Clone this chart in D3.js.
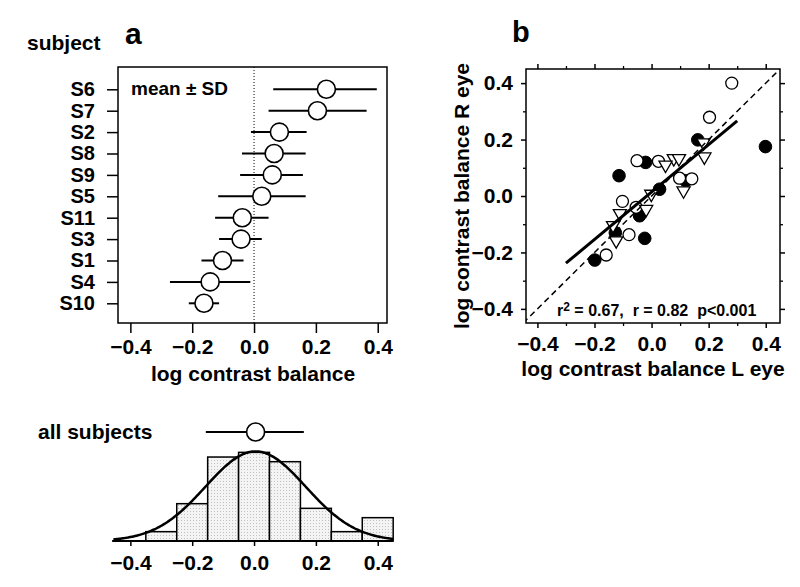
<!DOCTYPE html>
<html>
<head>
<meta charset="utf-8">
<script src="https://cdn.jsdelivr.net/npm/d3@7"></script>
<style>
  body { margin: 0; background: #fff; }
  svg { display: block; }
  text { font-family: "Liberation Sans", Arial, sans-serif; font-weight: bold; fill: #000; }
</style>
</head>
<body>
<script>
// panel a: per-subject mean +- SD
const subjects = ["S6", "S7", "S2", "S8", "S9", "S5", "S11", "S3", "S1", "S4", "S10"];
const subjMean = [0.234, 0.205, 0.082, 0.065, 0.059, 0.025, -0.038, -0.042, -0.102, -0.142, -0.162];
const subjLo = [0.062, 0.047, -0.010, -0.039, -0.045, -0.116, -0.126, -0.113, -0.170, -0.272, -0.211];
const subjHi = [0.397, 0.364, 0.170, 0.167, 0.158, 0.167, 0.047, 0.025, -0.034, -0.012, -0.113];
const xTicks = [-0.4, -0.2, 0.0, 0.2, 0.4];

// histogram, all subjects
const binStarts = [-0.35, -0.25, -0.15, -0.05, 0.05, 0.15, 0.25, 0.35];
const binCounts = [2, 8, 18, 19, 17, 7, 2, 5];
const binWidth = 0.1;
const allMean = 0.005, allSD = 0.162;
const allLo = -0.156, allHi = 0.161;

// panel b: L eye vs R eye
const filledL = [-0.199, -0.114, -0.021, -0.024, 0.028, 0.162, 0.399, -0.042, -0.127, 0.120];
const filledR = [-0.227, 0.072, 0.119, -0.150, 0.024, 0.199, 0.175, -0.070, -0.130, 0.054];
const openL = [0.281, 0.203, -0.051, 0.024, 0.098, 0.141, -0.102, -0.054, -0.079, -0.159];
const openR = [0.400, 0.279, 0.125, 0.123, 0.063, 0.061, -0.019, -0.040, -0.137, -0.209];
const triL = [0.182, 0.185, 0.078, 0.096, 0.049, 0.112, -0.001, -0.019, -0.111, -0.135, -0.124];
const triR = [0.189, 0.139, 0.133, 0.133, 0.110, 0.019, 0.007, -0.047, -0.062, -0.104, -0.158];
const fitX = [-0.30, 0.30];
const fitY = [-0.238, 0.266];
const bTicks = [-0.4, -0.2, 0.0, 0.2, 0.4];
const bMinor = [-0.3, -0.1, 0.1, 0.3];

const svg = d3.select("body").append("svg")
    .attr("width", 800)
    .attr("height", 587);

const fmt = d3.format(".1f");

// ---------- panel a ----------
const xA = d3.scaleLinear().domain([-0.44, 0.43]).range([118, 387]);
const yA = d3.scalePoint().domain(subjects).range([89.3, 303.3]);
const boxA = {top: 67, bottom: 323};

svg.append("rect")
    .attr("x", xA.range()[0]).attr("y", boxA.top)
    .attr("width", xA.range()[1] - xA.range()[0])
    .attr("height", boxA.bottom - boxA.top)
    .attr("fill", "none").attr("stroke", "#000").attr("stroke-width", 1.5);

const ayA = svg.append("g")
    .attr("transform", "translate(" + xA.range()[0] + ",0)")
    .call(d3.axisLeft(yA).tickSize(11).tickPadding(12));
ayA.select(".domain").remove();
ayA.selectAll("line").attr("stroke-width", 1.5);
ayA.selectAll("text").attr("font-size", 20).attr("font-family", null);

const axA = svg.append("g")
    .attr("transform", "translate(0," + boxA.bottom + ")")
    .call(d3.axisBottom(xA).tickValues(xTicks).tickFormat(fmt).tickSize(10).tickPadding(6).tickSizeOuter(0));
axA.select(".domain").remove();
axA.selectAll("line").attr("stroke-width", 1.5);
axA.selectAll("text").attr("font-size", 21).attr("font-family", null);

svg.append("line")
    .attr("x1", xA(0)).attr("x2", xA(0))
    .attr("y1", boxA.top).attr("y2", boxA.bottom)
    .attr("stroke", "#000").attr("stroke-width", 1)
    .attr("stroke-dasharray", "1,2");

const rows = subjects.map((s, i) => ({s: s, m: subjMean[i], lo: subjLo[i], hi: subjHi[i]}));

svg.selectAll(".sdbar")
    .data(rows)
    .enter().append("line")
    .attr("class", "sdbar")
    .attr("x1", d => xA(d.lo)).attr("x2", d => xA(d.hi))
    .attr("y1", d => yA(d.s)).attr("y2", d => yA(d.s))
    .attr("stroke", "#000").attr("stroke-width", 2);

svg.selectAll(".mean")
    .data(rows)
    .enter().append("circle")
    .attr("class", "mean")
    .attr("cx", d => xA(d.m)).attr("cy", d => yA(d.s))
    .attr("r", 9)
    .attr("fill", "#fff").attr("stroke", "#000").attr("stroke-width", 1.6);

svg.append("text").text("mean ± SD")
    .attr("x", 131).attr("y", 95).attr("font-size", 19);
svg.append("text").text("subject")
    .attr("x", 27).attr("y", 50).attr("font-size", 21);
svg.append("text").text("a")
    .attr("x", 125).attr("y", 44).attr("font-size", 30);
svg.append("text").text("log contrast balance")
    .attr("x", 253).attr("y", 381).attr("text-anchor", "middle").attr("font-size", 21);

// ---------- histogram ----------
const xH = d3.scaleLinear().domain([-0.44, 0.43]).range([118, 387]);
const yH = d3.scaleLinear().domain([0, 20]).range([541, 541 - 93.3]);

const defs = svg.append("defs");
const pat = defs.append("pattern")
    .attr("id", "stip").attr("patternUnits", "userSpaceOnUse")
    .attr("width", 3).attr("height", 3);
pat.append("rect").attr("width", 3).attr("height", 3).attr("fill", "#f4f4f4");
pat.append("rect").attr("x", 1).attr("y", 1).attr("width", 1).attr("height", 1).attr("fill", "#c0c0c0");

const bins = binStarts.map((b, i) => ({x0: b, x1: b + binWidth, n: binCounts[i]}));

svg.selectAll(".bin")
    .data(bins)
    .enter().append("rect")
    .attr("class", "bin")
    .attr("x", d => xH(d.x0))
    .attr("width", d => xH(d.x1) - xH(d.x0))
    .attr("y", d => yH(d.n))
    .attr("height", d => yH(0) - yH(d.n))
    .attr("fill", "url(#stip)").attr("stroke", "#000").attr("stroke-width", 1.5);

// fitted normal, scaled to counts
const nTot = d3.sum(binCounts);
const curveX = d3.range(-0.455, 0.4525, 0.005);
const curve = curveX.map(v => [v, nTot * binWidth / (allSD * Math.sqrt(2 * Math.PI)) *
    Math.exp(-0.5 * Math.pow((v - allMean) / allSD, 2))]);
svg.append("path")
    .datum(curve)
    .attr("d", d3.line().x(d => xH(d[0])).y(d => yH(d[1])).curve(d3.curveBasis))
    .attr("fill", "none").attr("stroke", "#000").attr("stroke-width", 2.5);

const axH = svg.append("g")
    .attr("transform", "translate(0," + yH(0) + ")")
    .call(d3.axisBottom(xH).tickValues(xTicks).tickFormat(fmt).tickSize(5).tickPadding(9).tickSizeOuter(0));
axH.select(".domain")
    .attr("d", "M" + xH(-0.459) + ",0H" + xH(0.45))
    .attr("stroke-width", 2);
axH.selectAll("line").attr("stroke-width", 1.5);
axH.selectAll("text").attr("font-size", 21).attr("font-family", null);

const allY = 432;
svg.append("line")
    .attr("x1", xH(allLo)).attr("x2", xH(allHi))
    .attr("y1", allY).attr("y2", allY)
    .attr("stroke", "#000").attr("stroke-width", 2);
svg.append("circle")
    .attr("cx", xH(allMean)).attr("cy", allY).attr("r", 9)
    .attr("fill", "#fff").attr("stroke", "#000").attr("stroke-width", 1.6);
svg.append("text").text("all subjects")
    .attr("x", 38).attr("y", 439).attr("font-size", 21);

// ---------- panel b ----------
const xB = d3.scaleLinear().domain([-0.44, 0.45]).range([526, 780]);
const yB = d3.scaleLinear().domain([-0.45, 0.45]).range([323, 69]);

defs.append("clipPath").attr("id", "clipB")
    .append("rect")
    .attr("x", 526).attr("y", 69).attr("width", 254).attr("height", 254);

function frameAxis(axisFn, scale, tr, labels) {
    const g = svg.append("g").attr("transform", tr);
    g.call(axisFn(scale).tickValues(bMinor).tickFormat("").tickSize(3).tickSizeOuter(0));
    g.select(".domain").remove();
    const g2 = svg.append("g").attr("transform", tr);
    g2.call(axisFn(scale).tickValues(bTicks).tickFormat(labels ? fmt : "").tickSize(5).tickPadding(8).tickSizeOuter(0));
    g2.select(".domain").remove();
    g.selectAll("line").attr("stroke-width", 1.3);
    g2.selectAll("line").attr("stroke-width", 1.5);
    return g2;
}

const bxAx = frameAxis(d3.axisBottom, xB, "translate(0,323)", true);
bxAx.selectAll("text").attr("font-size", 21).attr("font-family", null);
frameAxis(d3.axisTop, xB, "translate(0,69)", false);
const byAx = frameAxis(d3.axisLeft, yB, "translate(526,0)", true);
byAx.selectAll("text").attr("font-size", 21).attr("font-family", null);
frameAxis(d3.axisRight, yB, "translate(780,0)", false);

svg.append("rect")
    .attr("x", 526).attr("y", 69).attr("width", 254).attr("height", 254)
    .attr("fill", "none").attr("stroke", "#000").attr("stroke-width", 1.5);

const plotB = svg.append("g").attr("clip-path", "url(#clipB)");

const filledPts = filledL.map((v, i) => [v, filledR[i]]);
const openPts = openL.map((v, i) => [v, openR[i]]);
const triPts = triL.map((v, i) => [v, triR[i]]);

plotB.selectAll(".filled")
    .data(filledPts)
    .enter().append("circle")
    .attr("class", "filled")
    .attr("cx", d => xB(d[0])).attr("cy", d => yB(d[1]))
    .attr("r", 6.3).attr("fill", "#000").attr("stroke", "#000");

plotB.selectAll(".open")
    .data(openPts)
    .enter().append("circle")
    .attr("class", "open")
    .attr("cx", d => xB(d[0])).attr("cy", d => yB(d[1]))
    .attr("r", 6).attr("fill", "#fff").attr("stroke", "#000").attr("stroke-width", 1.3);

const tri = d3.symbol().type(d3.symbolTriangle).size(75);
plotB.selectAll(".tri")
    .data(triPts)
    .enter().append("path")
    .attr("class", "tri")
    .attr("d", tri)
    .attr("transform", d => "translate(" + xB(d[0]) + "," + yB(d[1]) + ") rotate(180)")
    .attr("fill", "#fff").attr("stroke", "#000").attr("stroke-width", 1.3);

// identity line
plotB.append("line")
    .attr("x1", xB(-0.45)).attr("y1", yB(-0.45))
    .attr("x2", xB(0.45)).attr("y2", yB(0.45))
    .attr("stroke", "#000").attr("stroke-width", 1.5)
    .attr("stroke-dasharray", "6,4");

// regression line
plotB.append("line")
    .attr("x1", xB(fitX[0])).attr("y1", yB(fitY[0]))
    .attr("x2", xB(fitX[1])).attr("y2", yB(fitY[1]))
    .attr("stroke", "#000").attr("stroke-width", 3);

const note = svg.append("text").attr("x", 557).attr("y", 316).attr("font-size", 16);
note.append("tspan").text("r");
note.append("tspan").text("2").attr("dy", -5).attr("font-size", 12);
note.append("tspan").text(" = 0.67,\u00a0\u00a0r = 0.82\u00a0\u00a0p<0.001").attr("dy", 5);

svg.append("text").text("b")
    .attr("x", 512).attr("y", 42).attr("font-size", 29);
svg.append("text").text("log contrast balance L eye")
    .attr("x", 653).attr("y", 376).attr("text-anchor", "middle").attr("font-size", 21);
svg.append("text").text("log contrast balance R eye")
    .attr("transform", "translate(469,196) rotate(-90)")
    .attr("text-anchor", "middle").attr("font-size", 21);
</script>
</body>
</html>
